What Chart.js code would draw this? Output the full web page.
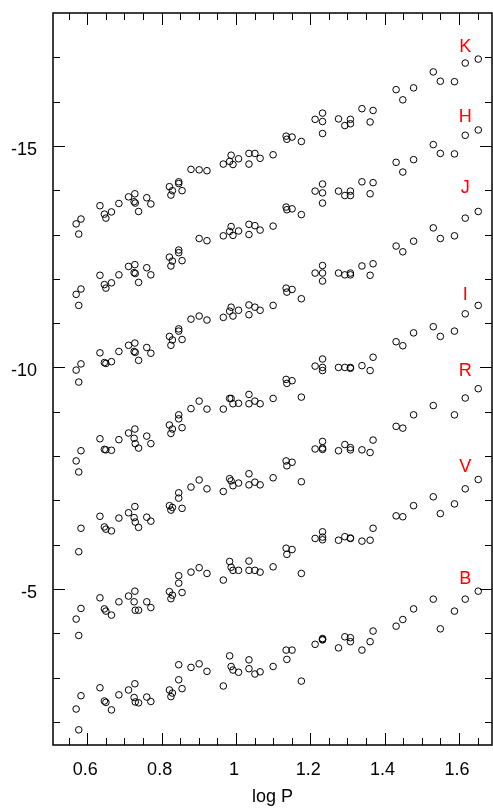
<!DOCTYPE html>
<html>
<head>
<meta charset="utf-8">
<script src="https://cdn.jsdelivr.net/npm/chart.js@4"></script>
<style>
  body { margin: 0; background: #fff; }
  #wrap { width: 493px; height: 809px; }
</style>
</head>
<body>
<div id="wrap"><canvas id="plChart"></canvas></div>
<script>
// log P of each Cepheid (same stars in every band)
const logP = [0.570, 0.577, 0.583, 0.634, 0.646, 0.650, 0.665, 0.685, 0.711, 0.726,
  0.728, 0.729, 0.738, 0.760, 0.771, 0.821, 0.825, 0.829, 0.846, 0.846,
  0.855, 0.879, 0.901, 0.922, 0.966, 0.983, 0.987, 0.992, 1.007, 1.035,
  1.035, 1.051, 1.065, 1.100, 1.135, 1.137, 1.151, 1.176, 1.213, 1.233,
  1.233, 1.233, 1.276, 1.293, 1.308, 1.308, 1.339, 1.369, 1.361, 1.431,
  1.449, 1.478, 1.531, 1.550, 1.588, 1.617, 1.652];

// magnitudes (offset per band), null = not plotted
const magK = [-13.24, -13.01, -13.35, -13.65, -13.46, -13.37, -13.51, -13.70, -13.85, -13.74,
  -13.92, -13.71, -13.52, -13.83, -13.69, -14.08, -13.89, -13.99, -14.19, -14.15,
  -13.99, -14.47, -14.46, -14.44, -14.59, -14.65, -14.79, -14.58, -14.71, -14.83,
  -14.59, -14.83, -14.72, -14.80, -15.22, -15.15, -15.20, -15.10, -15.60, -15.74,
  -15.55, -15.28, -15.61, -15.46, -15.60, -15.50, -15.84, -15.80, -15.54, -16.27,
  -16.04, -16.31, -16.67, -16.46, -16.45, -16.87, -16.96];
const magH = [-11.65, -11.40, -11.77, -12.08, -11.87, -11.79, -11.91, -12.09, -12.28, -12.14,
  -12.32, -12.12, -11.92, -12.25, -12.09, -12.49, -12.29, -12.40, -12.65, -12.59,
  -12.41, null, -12.91, -12.86, -12.97, -13.07, -13.18, -12.98, -13.08, -13.23,
  -13.00, -13.20, -13.10, -13.19, -13.62, -13.56, -13.58, -13.45, -13.98, -14.14,
  -13.94, -13.71, -13.98, -13.88, -13.98, -13.88, -14.19, -14.17, -13.92, -14.63,
  -14.41, -14.69, -15.03, -14.83, -14.82, -15.24, -15.36];
const magJ = [-9.94, -9.67, -10.08, -10.33, -10.11, -10.09, -10.13, -10.36, -10.50, -10.36,
  -10.55, -10.34, -10.16, -10.45, -10.32, -10.70, -10.50, -10.62, -10.87, -10.82,
  -10.63, -11.09, -11.16, -11.07, -11.13, -11.27, -11.36, -11.16, -11.29, -11.41,
  -11.19, -11.36, -11.29, -11.40, -11.79, -11.70, -11.76, -11.55, -12.13, -12.30,
  -12.13, -11.95, -12.13, -12.09, -12.13, -12.09, -12.29, -12.34, -12.08, -12.74,
  -12.61, -12.85, -13.15, -12.91, -12.97, -13.37, -13.52];
const magI = [-7.89, -7.64, -8.12, -8.39, -8.15, -8.14, -8.13, -8.37, -8.52, -8.40,
  -8.61, -8.28, -8.18, -8.45, -8.28, -8.70, -8.51, -8.61, -8.93, -8.84,
  -8.64, -9.07, -9.24, -9.06, -9.06, -9.30, -9.30, -9.18, -9.19, -9.39,
  -9.18, -9.24, -9.18, -9.30, -9.73, -9.64, -9.70, -9.33, -10.03, -10.19,
  -10.00, -9.93, -10.00, -10.00, -10.00, -9.98, -10.04, -10.23, -9.93, -10.58,
  -10.49, -10.78, -10.92, -10.70, -10.82, -11.21, -11.40];
const magR = [null, -5.84, -6.37, -6.64, -6.40, -6.35, -6.31, -6.60, -6.72, -6.61,
  -6.86, -6.51, -6.39, -6.62, -6.53, -6.88, -6.78, -6.84, -7.17, -7.05,
  -6.82, -7.30, -7.46, -7.26, -7.20, -7.49, -7.44, -7.33, -7.39, -7.60,
  -7.35, -7.41, -7.35, -7.51, -7.89, -7.78, -7.86, -7.42, -8.16, -8.33,
  -8.18, -8.15, -8.12, -8.26, -8.19, -8.14, -8.14, -8.36, -8.08, -8.67,
  -8.63, -8.93, -9.14, null, -8.93, -9.31, -9.52];
const magV = [-4.32, -3.95, -4.56, -4.80, -4.55, -4.50, -4.41, -4.71, -4.84, -4.71,
  -4.95, -4.52, -4.52, -4.71, -4.58, -4.94, -4.78, -4.86, -5.30, -5.13,
  -4.92, -5.38, -5.48, -5.35, -5.20, -5.62, -5.49, -5.42, -5.42, -5.63,
  -5.42, -5.42, -5.38, -5.50, -5.92, -5.78, -5.89, -5.35, -6.14, -6.29,
  -6.17, -6.11, -6.10, -6.18, -6.14, -6.15, -6.08, -6.37, -6.10, -6.65,
  -6.63, -6.88, -7.08, -6.70, -6.92, -7.26, -7.47];
const magB = [-2.29, -1.82, -2.59, -2.77, -2.47, -2.44, -2.27, -2.61, -2.72, -2.55,
  -2.86, -2.45, -2.43, -2.56, -2.46, -2.72, -2.57, -2.65, -3.29, -2.95,
  -2.75, -3.23, -3.31, -3.14, -2.81, -3.49, -3.25, -3.17, -3.12, -3.40,
  -3.20, -3.08, -3.13, -3.25, -3.62, -3.41, -3.62, -2.92, -3.75, -3.88,
  -3.86, -3.85, -3.67, -3.92, -3.90, -3.81, -3.62, -4.05, -3.81, -4.16,
  -4.31, -4.55, -4.77, -4.10, -4.50, -4.77, -4.95];

const bandNames = ["K", "H", "J", "I", "R", "V", "B"];
const bandMags = [magK, magH, magJ, magI, magR, magV, magB];
const bandLabelX = 1.617;
const bandLabelY = [-17.24, -15.65, -14.05, -11.64, -9.93, -7.76, -5.23];

const xTickValues = [0.6, 0.8, 1.0, 1.2, 1.4, 1.6];
const xTickLabels = ["0.6", "0.8", "1", "1.2", "1.4", "1.6"];
const yTickValues = [-15, -10, -5];
const yTickLabels = ["-15", "-10", "-5"];

const FONT = "'Liberation Sans', Arial, Helvetica, sans-serif";
Chart.defaults.font.family = FONT;
Chart.defaults.font.size = 18;
Chart.defaults.color = "#000";

const datasets = bandNames.map((name, b) => ({
  label: name,
  data: logP.map((x, i) => ({ x: x, y: bandMags[b][i] })).filter(p => p.y !== null),
  pointStyle: "circle",
  pointRadius: 3.3,
  pointBorderWidth: 1,
  pointBorderColor: "#000",
  pointBackgroundColor: "rgba(0,0,0,0)",
  showLine: false,
}));

// box, inward tick marks and band letters
const frame = {
  id: "frame",
  afterDraw(chart) {
    const { ctx, chartArea: a, scales: { x, y } } = chart;
    ctx.save();
    ctx.strokeStyle = "#000";
    ctx.lineWidth = 1;
    ctx.beginPath();
    for (let k = 11; k <= 33; k++) {
      const v = k * 0.05;
      const px = Math.round(x.getPixelForValue(v)) + 0.5;
      const len = k % 4 === 0 ? 12 : 7;
      ctx.moveTo(px, a.bottom); ctx.lineTo(px, a.bottom - len);
      ctx.moveTo(px, a.top); ctx.lineTo(px, a.top + len);
    }
    for (let v = -17; v <= -2; v++) {
      const py = Math.round(y.getPixelForValue(v)) + 0.5;
      const len = v % 5 === 0 ? 12 : 7;
      ctx.moveTo(a.left, py); ctx.lineTo(a.left + len, py);
      ctx.moveTo(a.right, py); ctx.lineTo(a.right - len, py);
    }
    ctx.stroke();
    ctx.lineWidth = 1.5;
    ctx.strokeRect(a.left, a.top, a.right - a.left, a.bottom - a.top);

    ctx.fillStyle = "#ff0000";
    ctx.font = "18px " + FONT;
    ctx.textAlign = "center";
    ctx.textBaseline = "middle";
    bandNames.forEach((n, i) => {
      ctx.fillText(n, x.getPixelForValue(bandLabelX), y.getPixelForValue(bandLabelY[i]));
    });
    ctx.restore();
  }
};

new Chart(document.getElementById("plChart"), {
  type: "scatter",
  data: { datasets },
  plugins: [frame],
  options: {
    responsive: true,
    maintainAspectRatio: false,
    animation: false,
    events: [],
    layout: { autoPadding: false, padding: { top: 13, right: 1, left: 0, bottom: 0 } },
    plugins: { legend: { display: false }, tooltip: { enabled: false } },
    scales: {
      x: {
        type: "linear",
        min: 0.5077,
        max: 1.689,
        grid: { display: false, drawTicks: false },
        border: { display: false },
        afterBuildTicks: s => { s.ticks = xTickValues.map(v => ({ value: v })); },
        afterFit: s => { s.height = 64; s.paddingLeft = 0; s.paddingRight = 0; },
        ticks: {
          autoSkip: false,
          maxRotation: 0,
          padding: 14,
          labelOffset: -2,
          callback: (v, i) => xTickLabels[i],
        },
        title: { display: true, text: "log P", font: { size: 18 }, padding: { top: 0, bottom: 1 } },
      },
      y: {
        type: "linear",
        reverse: true,
        min: -18,
        max: -1.478,
        grid: { display: false, drawTicks: false },
        border: { display: false },
        afterBuildTicks: s => { s.ticks = yTickValues.map(v => ({ value: v })); },
        afterFit: s => { s.width = 53; s.paddingTop = 0; s.paddingBottom = 0; },
        ticks: {
          autoSkip: false,
          padding: 16,
          labelOffset: 4,
          callback: (v, i) => yTickLabels[i],
        },
      },
    },
  },
});
</script>
</body>
</html>
